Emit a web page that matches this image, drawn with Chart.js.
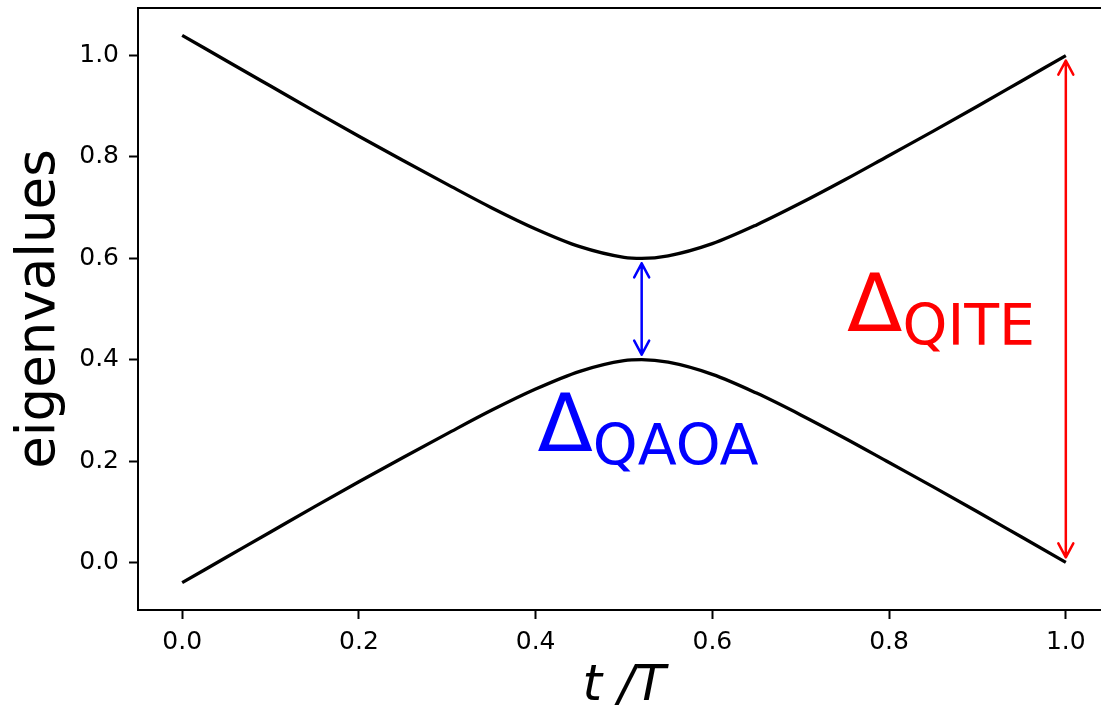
<!DOCTYPE html>
<html>
<head>
<meta charset="utf-8">
<script src="https://cdn.jsdelivr.net/npm/chart.js@4/dist/chart.umd.min.js"></script>
<style>
    html, body { margin: 0; padding: 0; background: #fff; overflow: hidden; }
    #wrap { width: 1112px; height: 710px; }
</style>
</head>
<body>
<div id="wrap"><canvas id="chart"></canvas></div>
<script>
// t/T sample points and the two eigenvalue branches
const tValues = [0, 0.05, 0.1, 0.15, 0.2, 0.25, 0.3, 0.35, 0.4, 0.45, 0.5, 0.52, 0.55, 0.6, 0.65, 0.7, 0.75, 0.8, 0.85, 0.9, 0.95, 1.0];
const upperValues = [1.040, 0.990, 0.940, 0.890, 0.841, 0.793, 0.746, 0.700, 0.658, 0.623, 0.602, 0.600, 0.605, 0.629, 0.666, 0.709, 0.755, 0.803, 0.851, 0.900, 0.950, 1.000];
const lowerValues = [-0.040, 0.010, 0.060, 0.110, 0.159, 0.207, 0.254, 0.300, 0.342, 0.377, 0.398, 0.400, 0.395, 0.371, 0.334, 0.291, 0.245, 0.197, 0.149, 0.100, 0.050, 0.000];

const xTicks = [0, 0.2, 0.4, 0.6, 0.8, 1.0];
const yTicks = [0, 0.2, 0.4, 0.6, 0.8, 1.0];

// gap arrows: at t, from lower to upper eigenvalue
const gapNames = ["QAOA", "QITE"];
const gapT = [0.52, 1.0];
const gapLow = [0.4, 0.0];
const gapHigh = [0.6, 1.0];
const gapColors = ["#0000ff", "#ff0000"];
// where the Δ labels sit (data units, left/baseline of Δ)
const labelT = [0.402, 0.7525];
const labelY = [0.22, 0.456];

const gapPlugin = {
    id: "gaps",
    afterDatasetsDraw(chart) {
        const { ctx, chartArea, scales: { x, y } } = chart;
        ctx.save();

        // axes frame, like matplotlib spines
        ctx.strokeStyle = "#000";
        ctx.lineWidth = 2;
        ctx.strokeRect(chartArea.left, chartArea.top, chartArea.right - chartArea.left, chartArea.bottom - chartArea.top);

        gapT.forEach((t, i) => {
            const px = x.getPixelForValue(t);
            const yTop = y.getPixelForValue(gapHigh[i]) + 5;
            const yBot = y.getPixelForValue(gapLow[i]) - 5;
            ctx.strokeStyle = gapColors[i];
            ctx.lineWidth = 2.5;
            ctx.lineCap = "round";
            ctx.lineJoin = "round";
            ctx.beginPath();
            ctx.moveTo(px, yTop);
            ctx.lineTo(px, yBot);
            // open heads
            ctx.moveTo(px - 7.5, yTop + 14);
            ctx.lineTo(px, yTop);
            ctx.lineTo(px + 7.5, yTop + 14);
            ctx.moveTo(px - 7.5, yBot - 14);
            ctx.lineTo(px, yBot);
            ctx.lineTo(px + 7.5, yBot - 14);
            ctx.stroke();

            const lx = x.getPixelForValue(labelT[i]);
            const ly = y.getPixelForValue(labelY[i]);
            ctx.fillStyle = gapColors[i];
            ctx.textBaseline = "alphabetic";
            ctx.textAlign = "left";
            ctx.font = "81px 'DejaVu Sans'";
            ctx.fillText("Δ", lx, ly);
            const w = ctx.measureText("Δ").width;
            ctx.font = "57px 'DejaVu Sans'";
            ctx.fillText(gapNames[i], lx + w, ly + 14);
        });
        ctx.restore();
    }
};

const ctx = document.getElementById("chart").getContext("2d");
new Chart(ctx, {
    type: "line",
    data: {
        datasets: [
            {
                data: tValues.map((t, i) => ({ x: t, y: upperValues[i] })),
                borderColor: "#000",
                borderWidth: 3.3,
                pointRadius: 0,
                cubicInterpolationMode: "monotone"
            },
            {
                data: tValues.map((t, i) => ({ x: t, y: lowerValues[i] })),
                borderColor: "#000",
                borderWidth: 3.3,
                pointRadius: 0,
                cubicInterpolationMode: "monotone"
            }
        ]
    },
    options: {
        responsive: true,
        maintainAspectRatio: false,
        animation: false,
        layout: { padding: { top: 8, right: 2, left: 0, bottom: 0 } },
        plugins: { legend: { display: false }, tooltip: { enabled: false } },
        scales: {
            x: {
                type: "linear",
                min: -0.05,
                max: 1.05,
                afterFit: s => { s.height = 100; s.paddingLeft = 0; s.paddingRight = 0; },
                afterBuildTicks: s => { s.ticks = xTicks.map(v => ({ value: v })); },
                ticks: {
                    color: "#000",
                    font: { family: "DejaVu Sans", size: 25 },
                    padding: 8,
                    maxRotation: 0,
                    callback: v => v.toFixed(1)
                },
                grid: { drawOnChartArea: false, drawTicks: true, tickLength: 9, tickColor: "#000", tickWidth: 2 },
                border: { display: false },
                title: {
                    display: true,
                    text: "t /T",
                    color: "#000",
                    font: { family: "DejaVu Sans", size: 50, style: "italic", lineHeight: 0.9 },
                    padding: { top: 0, bottom: 0 }
                }
            },
            y: {
                min: -0.094,
                max: 1.094,
                afterFit: s => { s.width = 138; s.paddingTop = 0; s.paddingBottom = 0; },
                afterBuildTicks: s => { s.ticks = yTicks.map(v => ({ value: v })); },
                ticks: {
                    color: "#000",
                    font: { family: "DejaVu Sans", size: 25 },
                    padding: 10,
                    callback: v => v.toFixed(1)
                },
                grid: { drawOnChartArea: false, drawTicks: true, tickLength: 9, tickColor: "#000", tickWidth: 2 },
                border: { display: false },
                title: {
                    display: true,
                    text: "eigenvalues",
                    color: "#000",
                    font: { family: "DejaVu Sans", size: 53, lineHeight: 1 },
                    padding: { top: 14, bottom: 0 }
                }
            }
        }
    },
    plugins: [gapPlugin]
});
</script>
</body>
</html>
